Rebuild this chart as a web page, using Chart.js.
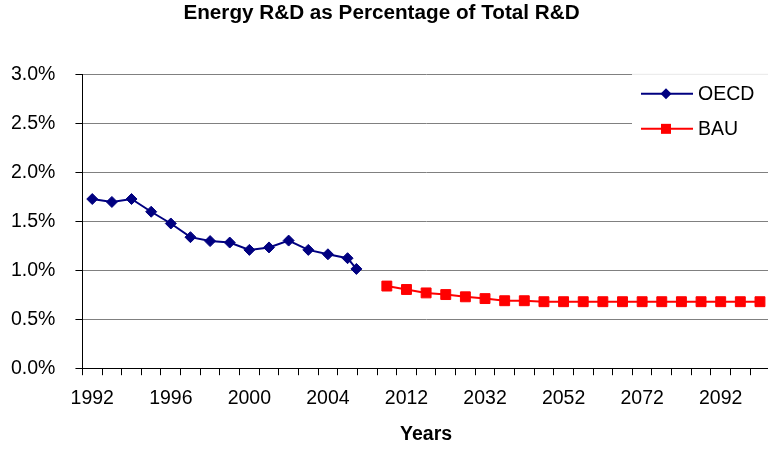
<!DOCTYPE html>
<html>
<head>
<meta charset="utf-8">
<script src="https://cdn.jsdelivr.net/npm/chart.js@4.4.0/dist/chart.umd.min.js"></script>
<style>
  html, body { margin: 0; padding: 0; background: #fff; overflow: hidden; }
  #wrap { width: 772px; height: 452px; }
</style>
</head>
<body>
<div id="wrap"><canvas id="chart" width="772" height="452"></canvas></div>
<script>
// --- Data ---
const categories = ['1992', '1993', '1994', '1995', '1996', '1997', '1998', '1999',
  '2000', '2001', '2002', '2003', '2004', '2005', '2006', '2007',
  '2012', '2017', '2022', '2027', '2032', '2037', '2042', '2047',
  '2052', '2057', '2062', '2067', '2072', '2077', '2082', '2087',
  '2092', '2097', '2102'];

// position on the category axis (index), value in %
const oecdPos = [0, 1, 2, 3, 4, 5, 6, 7, 8, 9, 10, 11, 12, 13, 13.45];
const oecdVals = [1.73, 1.70, 1.73, 1.60, 1.48, 1.34, 1.30, 1.285, 1.21, 1.235, 1.305, 1.21, 1.165, 1.125, 1.015];

const bauPos = [15, 16, 17, 18, 19, 20, 21, 22, 23, 24, 25, 26, 27, 28, 29, 30, 31, 32, 33, 34];
const bauVals = [0.84, 0.805, 0.77, 0.753, 0.73, 0.712, 0.69, 0.69, 0.68, 0.68,
  0.68, 0.68, 0.68, 0.68, 0.68, 0.68, 0.68, 0.68, 0.68, 0.68];

const yTicks = [0, 0.5, 1.0, 1.5, 2.0, 2.5, 3.0];

const FONT = "'Liberation Sans', Arial, sans-serif";

// --- Legend drawn inside the plot, top right (Excel style) ---
const insideLegend = {
  id: 'insideLegend',
  afterDatasetsDraw(chart) {
    const { ctx, chartArea } = chart;
    const x0 = 632, y0 = chartArea.top - 1, h = 88;
    ctx.save();
    ctx.fillStyle = '#fff';
    ctx.fillRect(x0, y0, chart.width - x0, h);
    ctx.strokeStyle = '#e8e8e8';
    ctx.lineWidth = 1;
    ctx.beginPath();
    ctx.moveTo(x0, y0 + 0.5);
    ctx.lineTo(chart.width, y0 + 0.5);
    ctx.stroke();

    chart.data.datasets.forEach((ds, i) => {
      const y = y0 + 20 + i * 35;
      ctx.strokeStyle = ds.borderColor;
      ctx.lineWidth = 2;
      ctx.beginPath();
      ctx.moveTo(641, y);
      ctx.lineTo(693, y);
      ctx.stroke();
      ctx.fillStyle = ds.pointBackgroundColor;
      ctx.beginPath();
      if (ds.pointStyle === 'rectRot') {
        ctx.moveTo(666, y - 5.5);
        ctx.lineTo(671.5, y);
        ctx.lineTo(666, y + 5.5);
        ctx.lineTo(660.5, y);
        ctx.closePath();
      } else {
        ctx.rect(661, y - 5, 10, 10);
      }
      ctx.fill();
      ctx.fillStyle = '#000';
      ctx.font = '19.5px ' + FONT;
      ctx.textBaseline = 'middle';
      ctx.textAlign = 'left';
      ctx.fillText(ds.label, 698, y + 1);
    });
    ctx.restore();
  }
};

new Chart(document.getElementById('chart'), {
  type: 'line',
  data: {
    datasets: [
      {
        label: 'OECD',
        data: oecdPos.map((p, i) => ({ x: p, y: oecdVals[i] })),
        borderColor: '#000080',
        backgroundColor: '#000080',
        pointBackgroundColor: '#000080',
        pointBorderColor: '#000080',
        pointStyle: 'rectRot',
        pointRadius: 5.5,
        pointBorderWidth: 1,
        borderWidth: 2,
        tension: 0,
        xAxisID: 'x',
        yAxisID: 'y'
      },
      {
        label: 'BAU',
        data: bauPos.map((p, i) => ({ x: p, y: bauVals[i] })),
        borderColor: '#ff0000',
        backgroundColor: '#ff0000',
        pointBackgroundColor: '#ff0000',
        pointBorderColor: '#ff0000',
        pointStyle: 'rect',
        pointRadius: 7,
        pointBorderWidth: 1,
        borderWidth: 2,
        tension: 0,
        xAxisID: 'x',
        yAxisID: 'y'
      }
    ]
  },
  options: {
    responsive: false,
    animation: false,
    devicePixelRatio: 1,
    layout: { autoPadding: false, padding: { left: -9, right: 0, top: 0, bottom: 0 } },
    plugins: {
      legend: { display: false },
      tooltip: { enabled: false },
      title: {
        display: true,
        text: 'Energy R&D as Percentage of Total R&D',
        color: '#000',
        font: { family: FONT, size: 20.7, weight: 'bold' },
        padding: { top: 1, bottom: 49 }
      }
    },
    scales: {
      x: {
        type: 'linear',
        display: false,
        min: -0.5,
        max: categories.length - 0.5
      },
      xc: {
        type: 'category',
        position: 'bottom',
        labels: categories,
        offset: true,
        border: { display: true, color: '#000', width: 1 },
        grid: {
          offset: true,
          drawOnChartArea: false,
          drawTicks: true,
          tickLength: 7,
          tickColor: '#000',
          color: '#000'
        },
        ticks: {
          autoSkip: false,
          maxRotation: 0,
          minRotation: 0,
          padding: 12,
          color: '#000',
          font: { family: FONT, size: 19.5 },
          callback: (v, i) => (i % 4 === 0 ? categories[i] : '')
        },
        title: {
          display: true,
          text: 'Years',
          color: '#000',
          font: { family: FONT, size: 19.5, weight: 'bold' },
          padding: { top: 0, bottom: 6 }
        }
      },
      y: {
        min: 0,
        max: 3,
        border: { display: true, color: '#000', width: 1 },
        grid: {
          color: '#808080',
          lineWidth: 1,
          tickLength: 7,
          tickColor: '#000'
        },
        afterBuildTicks: scale => {
          scale.ticks = yTicks.map(v => ({ value: v }));
        },
        ticks: {
          padding: 20,
          color: '#000',
          font: { family: FONT, size: 19.5 },
          callback: v => v.toFixed(1) + '%'
        }
      }
    }
  },
  plugins: [insideLegend]
});
</script>
</body>
</html>
